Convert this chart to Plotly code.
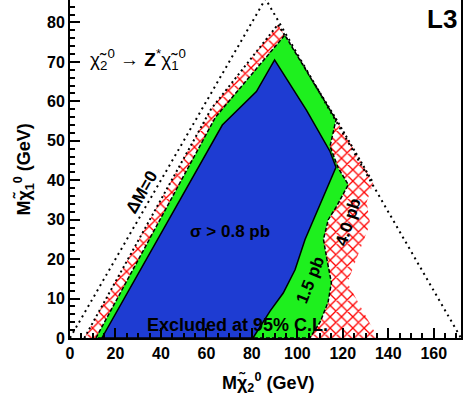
import plotly.graph_objects as go

# ---- data (GeV) ----
tri_x = [0, 86, 172]
tri_y = [0, 86, 0]

red_x = [6.3, 62, 91.5, 117.3, 133.4, 130.5, 132, 122, 135.5, 6.3]
red_y = [0, 58, 79.5, 55.3, 39.3, 34.5, 29, 14, 0, 0]
red_edge_x = [6.3, 62, 91.5, 117.3, 133.4]
red_edge_y = [0, 58, 79.5, 55.3, 39.3]

green_x = [11.4, 64, 94.5, 117, 114.4, 118, 122.4, 117.3, 113.6, 111.5, 113, 115, 113.5, 110, 105.5, 11.4]
green_y = [0, 56, 76.8, 55.3, 48.6, 43.1, 38.9, 33.4, 30, 25, 20, 14, 9, 4, 0, 0]

blue_x = [14, 67, 82, 90, 104, 114.4, 117, 111.5, 106.3, 103.4, 99, 93.8, 88, 80.5, 14]
blue_y = [0, 54, 62.5, 70.5, 57.8, 47.3, 43.3, 36, 29, 25, 17.3, 11.4, 6.8, 0, 0]

x_ticks = [0, 20, 40, 60, 80, 100, 120, 140, 160]
y_ticks = [0, 10, 20, 30, 40, 50, 60, 70, 80]

FONT = "Liberation Sans, Arial, Helvetica, sans-serif"

fig = go.Figure()

fig.add_trace(go.Scatter(
    x=red_x, y=red_y, mode="lines", fill="toself", fillcolor="white",
    line=dict(width=0, color="rgba(0,0,0,0)"),
    fillpattern=dict(shape="x", fgcolor="#ff0000", bgcolor="white", size=8,
                     solidity=0.3, fgopacity=1),
    hoverinfo="skip", showlegend=False))
fig.add_trace(go.Scatter(
    x=red_edge_x, y=red_edge_y, mode="lines",
    line=dict(width=2, color="black", dash="2px,3px"),
    hoverinfo="skip", showlegend=False))
fig.add_trace(go.Scatter(
    x=green_x, y=green_y, mode="lines", fill="toself", fillcolor="#1ef01e",
    line=dict(width=1.5, color="black", dash="4px,2px"),
    hoverinfo="skip", showlegend=False))
fig.add_trace(go.Scatter(
    x=blue_x, y=blue_y, mode="lines", fill="toself", fillcolor="#1e3cd2",
    line=dict(width=1.5, color="black"),
    hoverinfo="skip", showlegend=False))
fig.add_trace(go.Scatter(
    x=tri_x, y=tri_y, mode="lines",
    line=dict(width=2, color="black", dash="2px,4px"),
    hoverinfo="skip", showlegend=False))

ann = []
def add(text, x, y, size, angle=0, xanchor="center", xref="x", yref="y"):
    ann.append(dict(text=text, x=x, y=y, xref=xref, yref=yref, showarrow=False,
                    textangle=angle, xanchor=xanchor, yanchor="middle",
                    font=dict(family=FONT, size=size, color="black")))

add("<b>L3</b>", 163.7, 80.8, 26)
add("χ\u0303<sub>2</sub><sup>0</sup> → <b>Z</b><sup>*</sup>χ\u0303<sub>1</sub><sup>0</sup>", 7.9, 70.7, 19, xanchor="left")
add("<b>ΔM=0</b>", 31.5, 36.9, 17, angle=-60)
add("<b>σ > 0.8 pb</b>", 70.4, 27.0, 17)
add("<b>Excluded at 95% C.L.</b>", 73.9, 3.4, 18)
add("<b>1.5 pb</b>", 105.6, 14.6, 17, angle=-68)
add("<b>4.0 pb</b>", 122.3, 29.3, 17, angle=-72)
add("<b>Mχ\u0303<sub>2</sub><sup>0</sup> (GeV)</b>", 0.506, -0.131, 18, xref="paper", yref="paper")
add("<b>Mχ\u0303<sub>1</sub><sup>0</sup> (GeV)</b>", -0.118, 0.498, 18, angle=-90, xref="paper", yref="paper")

fig.update_layout(
    width=464, height=402,
    margin=dict(l=70, r=3, t=0, b=64, autoexpand=False),
    paper_bgcolor="white", plot_bgcolor="white",
    annotations=ann,
    xaxis=dict(range=[0, 172], tickvals=x_ticks, ticktext=[str(v) for v in x_ticks],
               automargin=False,
               ticks="inside", ticklen=10, tickwidth=2, tickcolor="black",
               showline=True, linewidth=2, linecolor="black", mirror=True,
               showgrid=False, zeroline=False,
               minor=dict(dtick=5, ticks="inside", ticklen=5, tickwidth=1.5, tickcolor="black"),
               tickfont=dict(family=FONT, size=16, color="black", weight="bold")),
    yaxis=dict(range=[0, 85.7], tickvals=y_ticks, ticktext=[str(v) for v in y_ticks],
               automargin=False,
               ticks="inside", ticklen=10, tickwidth=2, tickcolor="black",
               showline=True, linewidth=2, linecolor="black", mirror=True,
               showgrid=False, zeroline=False,
               minor=dict(dtick=2, ticks="inside", ticklen=5, tickwidth=1.5, tickcolor="black"),
               tickfont=dict(family=FONT, size=16, color="black", weight="bold")),
)

fig.write_html("out.html", config={"displayModeBar": False},
               post_script="document.body.style.margin='0px';")
